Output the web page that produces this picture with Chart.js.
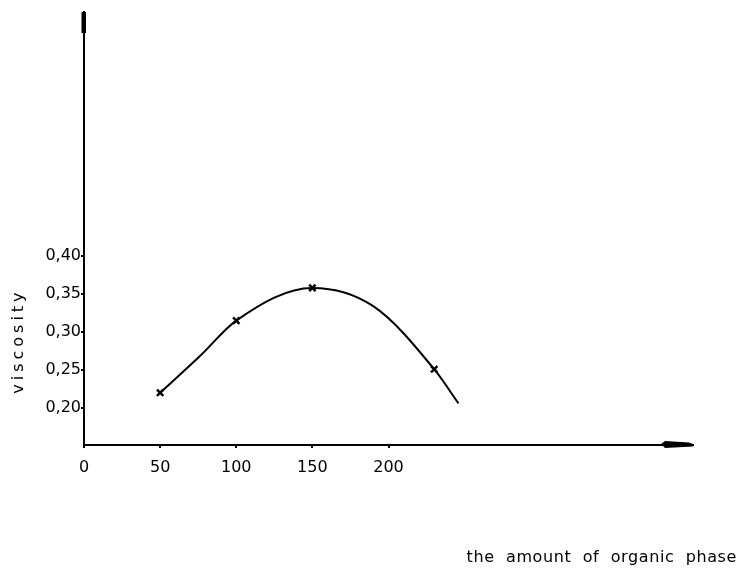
<!DOCTYPE html>
<html>
<head>
<meta charset="utf-8">
<title>viscosity vs organic phase</title>
<script src="https://cdn.jsdelivr.net/npm/chart.js@4/dist/chart.umd.min.js"></script>
<style>
    body { margin: 0; background: #fff; }
    #wrap { width: 739px; height: 569px; position: relative; }
</style>
</head>
<body>
<div id="wrap"><canvas id="viscosityChart"></canvas></div>
<script>
// measured points (the crosses)
const measuredX = [50, 100, 150, 230];
const measuredY = [0.22, 0.315, 0.358, 0.251];

// points
const curveX = [50, 76, 100, 150, 190, 230, 246];
const curveY = [0.22, 0.268, 0.315, 0.358, 0.334, 0.251, 0.206];

const xTicks = [0, 50, 100, 150, 200];
const yTicks = [0.20, 0.25, 0.30, 0.35, 0.40];

const xTitle = 'the  amount  of  organic  phase';
const yTitle = 'viscosity';

const FONT = '"DejaVu Sans", sans-serif';

//! ==================== axis arrows + titles ===========================
const axisDecor = {
    id: 'axisDecor',
    afterDraw(chart) {
        const { ctx, chartArea: a } = chart;
        ctx.save();
        ctx.fillStyle = '#000';

        // thick end of the y axis
        ctx.fillRect(a.left - 2.5, a.top, 4.5, 21);

        // arrow blob at the end of the x axis
        const y = chart.scales.y.getPixelForValue(chart.scales.y.min);
        ctx.beginPath();
        ctx.moveTo(a.right - 32, y - 1);
        ctx.lineTo(a.right - 28, y - 4);
        ctx.lineTo(a.right - 4, y - 2.5);
        ctx.lineTo(a.right, y - 1);
        ctx.lineTo(a.right, y + 1.5);
        ctx.lineTo(a.right - 28, y + 3);
        ctx.closePath();
        ctx.fill();

        // titles
        ctx.font = '16px ' + FONT;
        ctx.textBaseline = 'alphabetic';
        ctx.letterSpacing = '0.6px';
        ctx.textAlign = 'right';
        ctx.fillText(xTitle, chart.width - 2, chart.height - 7);

        ctx.letterSpacing = '4px';
        ctx.translate(a.left - 61, chart.scales.y.getPixelForValue(0.288));
        ctx.rotate(-Math.PI / 2);
        ctx.textAlign = 'center';
        ctx.fillText(yTitle, 0, 0);
        ctx.restore();
    }
};

//! ========================== chart ===================================
const ctx = document.getElementById('viscosityChart').getContext('2d');

new Chart(ctx, {
    type: 'line',
    data: {
        datasets: [{
            data: curveX.map((x, i) => ({ x: x, y: curveY[i] })),
            borderColor: '#000',
            borderWidth: 2,
            cubicInterpolationMode: 'monotone',
            fill: false,
            pointRadius: 0,
            clip: false
        }, {
            data: measuredX.map((x, i) => ({ x: x, y: measuredY[i] })),
            showLine: false,
            pointStyle: 'crossRot',
            pointRadius: 4.5,
            pointBorderColor: '#000',
            pointBorderWidth: 2.5,
            clip: false
        }]
    },
    options: {
        responsive: true,
        maintainAspectRatio: false,
        animation: false,
        layout: { padding: { top: 12, right: 46, left: 0, bottom: 0 } },
        plugins: {
            legend: { display: false },
            tooltip: { enabled: false }
        },
        scales: {
            x: {
                type: 'linear',
                min: 0,
                max: 400,
                afterBuildTicks: s => { s.ticks = xTicks.map(v => ({ value: v })); },
                afterFit: s => { s.height = 124; },
                border: { display: true, color: '#000', width: 2 },
                grid: { drawOnChartArea: false, drawTicks: true, tickLength: 3, color: '#000', lineWidth: 2 },
                ticks: {
                    color: '#000',
                    padding: 10,
                    maxRotation: 0,
                    font: { family: FONT, size: 16 }
                }
            },
            y: {
                type: 'linear',
                min: 0.1513,
                max: 0.721,
                afterBuildTicks: s => { s.ticks = yTicks.map(v => ({ value: v })); },
                afterFit: s => { s.width = 84; },
                border: { display: true, color: '#000', width: 2 },
                grid: { drawOnChartArea: false, drawTicks: true, tickLength: 3, color: '#000', lineWidth: 2 },
                ticks: {
                    color: '#000',
                    padding: 0,
                    font: { family: FONT, size: 16 },
                    callback: v => v.toFixed(2).replace('.', ',')
                }
            }
        }
    },
    plugins: [axisDecor]
});
</script>
</body>
</html>
